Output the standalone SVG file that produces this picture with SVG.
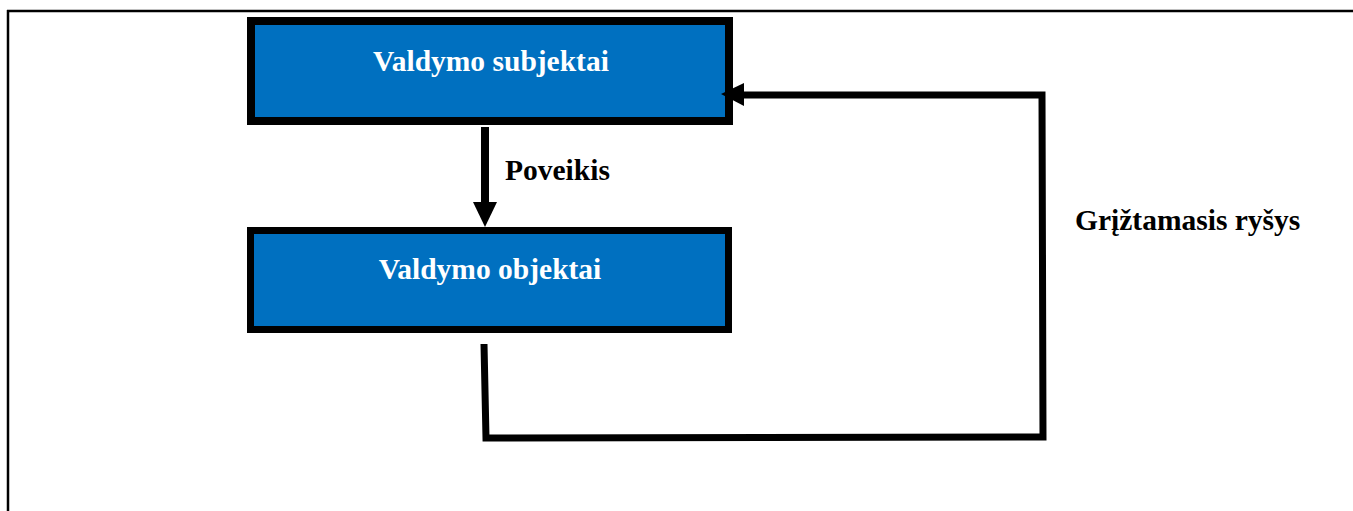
<svg xmlns="http://www.w3.org/2000/svg" width="1353" height="511" viewBox="0 0 1353 511">
  <style>
    .box { fill: #0070C0; stroke: #000; }
    .label { font-family: "Liberation Serif", "Times New Roman", serif; font-weight: bold; font-size: 29.5px; }
    .inbox { fill: #fff; text-anchor: middle; }
    .wire { fill: none; stroke: #000; stroke-linejoin: miter; }
  </style>
  <rect width="1353" height="511" fill="#fff"/>
  <!-- page frame -->
  <g id="frame" stroke="#000" stroke-width="2.5" fill="none">
    <line x1="7" y1="11" x2="1353" y2="11"/>
    <line x1="8" y1="10" x2="8" y2="511"/>
  </g>
  <g id="subjektai">
    <rect class="box" x="251" y="21" width="478" height="100" stroke-width="8"/>
    <text class="label inbox" x="491" y="71">Valdymo subjektai</text>
  </g>
  <g id="objektai">
    <rect class="box" x="250.5" y="230.5" width="478" height="99" stroke-width="7"/>
    <text class="label inbox" x="490" y="279">Valdymo objektai</text>
  </g>
  <g id="connectors">
    <line class="wire" x1="485" y1="127" x2="485" y2="204" stroke-width="8"/>
    <polygon points="473,202 497,202 485,227" fill="#000"/>
    <polyline class="wire" points="484,344 486,438 1043,437 1042,95 742,95" stroke-width="7"/>
    <polygon points="721,94 744,83 744,106" fill="#000"/>
    <text class="label" x="505" y="180">Poveikis</text>
    <text class="label" x="1075" y="230">Grįžtamasis ryšys</text>
  </g>
</svg>
